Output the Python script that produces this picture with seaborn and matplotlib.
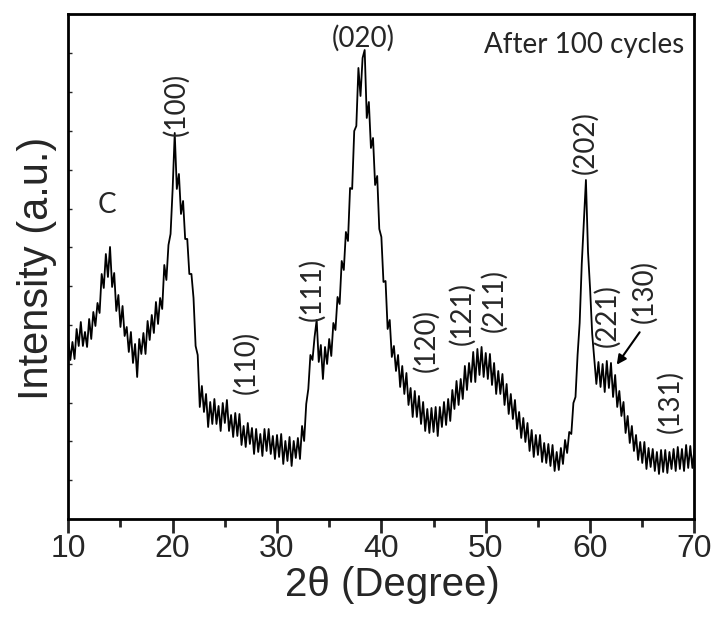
import numpy as np
import pandas as pd
import matplotlib
matplotlib.use("Agg")
import matplotlib.pyplot as plt
import seaborn as sns

# scan grid (2theta, degrees), 0.2 deg steps
two_theta = np.round(np.arange(100, 701, 2) / 10.0, 1)

# intensity (a.u.)
intensity = [
    179, 159, 177, 160, 190, 173, 197, 173, 187, 172,   # 10.0-11.8
    200, 180, 207, 193, 216, 206, 245, 231, 265, 242,   # 12.0-13.8
    272, 232, 246, 208, 224, 192, 213, 183, 192, 167,   # 14.0-15.8
    187, 156, 175, 142, 180, 165, 186, 165, 198, 179,   # 16.0-17.8
    204, 186, 217, 195, 221, 210, 254, 239, 274, 285,   # 18.0-19.8
    330, 386, 330, 345, 305, 318, 280, 280, 245, 245,   # 20.0-21.8
    221, 173, 164, 112, 133, 107, 125, 92, 117, 95,     # 22.0-23.8
    120, 95, 113, 88, 116, 96, 119, 88, 104, 82,        # 24.0-25.8
    106, 83, 105, 74, 93, 72, 96, 75, 91, 65,           # 26.0-27.8
    90, 67, 85, 63, 90, 68, 90, 65, 83, 60,             # 28.0-29.8
    84, 62, 85, 55, 78, 58, 82, 53, 78, 61,             # 30.0-31.8
    81, 60, 93, 78, 115, 130, 164, 159, 182, 199,       # 32.0-33.8
    157, 174, 140, 172, 155, 180, 163, 196, 189, 222,   # 34.0-35.8
    215, 258, 249, 287, 278, 331, 330, 388, 393, 451,   # 36.0-37.8
    423, 461, 469, 401, 417, 371, 381, 334, 343, 290,   # 38.0-39.8
    282, 237, 238, 190, 199, 162, 173, 148, 164, 132,   # 40.0-41.8
    153, 125, 146, 114, 131, 102, 128, 102, 123, 95,    # 42.0-43.8
    117, 88, 110, 86, 111, 87, 112, 83, 112, 92,        # 44.0-45.8
    117, 94, 120, 98, 129, 110, 138, 114, 140, 120,     # 46.0-47.8
    153, 129, 156, 137, 167, 137, 170, 144, 172, 142,   # 48.0-49.8
    166, 140, 165, 134, 156, 125, 148, 125, 145, 114,   # 50.0-51.8
    135, 105, 125, 100, 119, 90, 107, 81, 101, 77,      # 52.0-53.8
    96, 68, 89, 62, 84, 64, 84, 57, 76, 56,             # 54.0-55.8
    75, 53, 74, 48, 67, 49, 71, 55, 79, 66,             # 56.0-57.8
    87, 85, 116, 122, 164, 196, 255, 296, 339, 267,     # 58.0-59.8
    230, 185, 160, 135, 157, 132, 155, 127, 158, 131,   # 60.0-61.8
    156, 122, 144, 112, 128, 103, 117, 86, 103, 76,     # 62.0-63.8
    93, 68, 84, 59, 77, 56, 77, 50, 71, 52,             # 64.0-65.8
    70, 48, 67, 45, 69, 47, 69, 46, 67, 50,             # 66.0-67.8
    70, 48, 72, 50, 70, 48, 74, 51, 73, 51,             # 68.0-69.8
    70,                                                 # 70.0
]

# peak labels: (text, x, y, rotation)
peak_labels = ["C", "(100)", "(020)", "(110)", "(111)", "(120)", "(121)",
               "(211)", "(202)", "(221)", "(130)", "(131)"]
peak_x = [13.7, 20.3, 38.3, 27.0, 33.35, 44.25, 47.7, 50.8, 59.5, 61.6, 65.2, 67.7]
peak_y = [314, 415, 481, 157, 230, 178, 205, 218, 376, 203, 227, 117]
peak_rot = [0, 90, 0, 90, 90, 90, 90, 90, 90, 90, 90, 90]

x_ticks = [10, 20, 30, 40, 50, 60, 70]
x_minor = [15, 25, 35, 45, 55, 65]
y_ticks = [38.8 * k for k in range(1, 13)]

sns.set_style("white")
plt.rcParams["font.family"] = ["Liberation Sans", "DejaVu Sans"]

fig = plt.figure(figsize=(7.21, 6.24), dpi=100)
ax = fig.add_axes([0.0947, 0.1683, 0.8685, 0.8093])

df = pd.DataFrame({"two_theta": two_theta, "intensity": intensity})
sns.lineplot(data=df, x="two_theta", y="intensity", ax=ax,
             color="black", linewidth=1.3, estimator=None)

ax.set_xlim(10, 70)
ax.set_ylim(0, 505)
ax.set_xticks(x_ticks)
ax.set_xticks(x_minor, minor=True)
ax.set_yticks(y_ticks)
ax.set_yticklabels([])
ax.tick_params(axis="x", which="major", direction="out", length=10, width=2,
               labelsize=23, pad=0.5, bottom=True, top=False)
ax.tick_params(axis="x", which="minor", direction="out", length=6, width=2,
               bottom=True, top=False)
ax.tick_params(axis="y", which="major", direction="in", length=3, width=1,
               left=True, right=False)
for s in ax.spines.values():
    s.set_linewidth(2.0)
    s.set_color("black")

ax.set_xlabel("2θ (Degree)", fontsize=29)
ax.set_ylabel("Intensity (a.u.)", fontsize=30)
ax.xaxis.set_label_coords(0.517, -0.093)
ax.yaxis.set_label_coords(-0.018, 0.497)

for t, x, y, r in zip(peak_labels, peak_x, peak_y, peak_rot):
    ax.text(x, y, t, rotation=r, ha="center", va="center",
            fontsize=20, family=["Lato", "DejaVu Sans"])

ax.text(69.06, 466, "After 100 cycles", ha="right", va="baseline",
        fontsize=20, family=["Lato", "DejaVu Sans"])

ax.annotate("", xy=(62.4, 152), xytext=(64.9, 189),
            arrowprops=dict(arrowstyle="-|>", color="black", lw=1.5,
                            mutation_scale=14))

fig.savefig("out.png", dpi=100)
